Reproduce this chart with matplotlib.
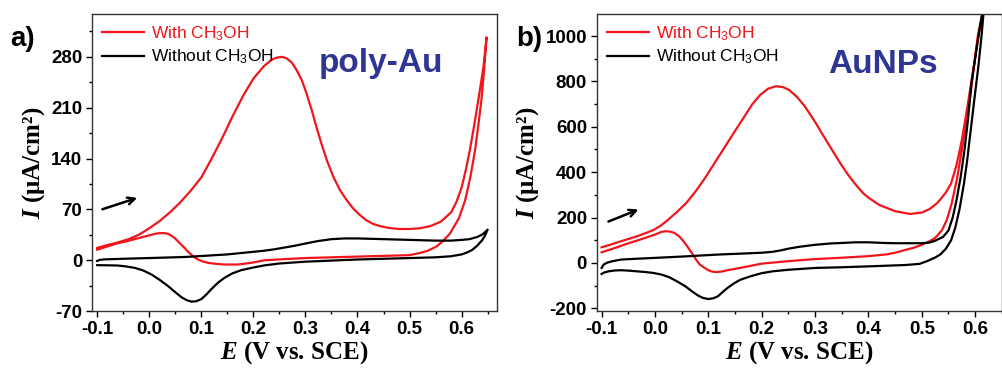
import numpy as np
import matplotlib
matplotlib.use("Agg")
import matplotlib.pyplot as plt

plt.rcParams['font.family'] = ['Liberation Sans', 'DejaVu Sans']
plt.rcParams['axes.unicode_minus'] = False
plt.rcParams['mathtext.fontset'] = 'custom'
plt.rcParams['mathtext.rm'] = 'Liberation Sans'
plt.rcParams['mathtext.it'] = 'Liberation Serif:italic:bold'

# ---- panel a: poly-Au ----
poly_with_fwd_E = [-0.10, -0.08, -0.06, -0.04, -0.02, 0.00, 0.02, 0.04, 0.06, 0.08, 0.10, 0.12, 0.14,
                   0.16, 0.18, 0.20, 0.22, 0.235, 0.245, 0.255, 0.264, 0.274, 0.283, 0.293, 0.302,
                   0.312, 0.321, 0.331, 0.341, 0.353, 0.366, 0.38, 0.392, 0.405, 0.417, 0.43, 0.443, 0.46,
                   0.48, 0.50, 0.52, 0.54, 0.56, 0.58, 0.59, 0.60, 0.608, 0.616, 0.624, 0.632, 0.642, 0.648]
poly_with_fwd_I = [17, 21, 24.5, 29, 35, 44, 54, 66, 80, 96, 114, 140, 168,
                   198, 226, 250, 267, 276, 279, 280, 278, 272, 262, 248, 230,
                   207, 184, 160, 138, 116, 97, 82, 71, 62, 55, 50, 47, 44.5,
                   43, 43, 44, 47, 53, 66, 80, 100, 124, 152, 185, 220, 266, 307]
poly_with_rev_E = [0.648, 0.643, 0.638, 0.632, 0.626, 0.617, 0.607, 0.595, 0.578, 0.565, 0.552, 0.535, 0.52,
                   0.50, 0.45, 0.40, 0.35, 0.30, 0.26, 0.222, 0.196, 0.17, 0.145, 0.128, 0.113, 0.102, 0.094,
                   0.087, 0.081, 0.074, 0.068, 0.058, 0.049, 0.042, 0.036, 0.028, 0.02, 0.012, 0.004, -0.012,
                   -0.028, -0.044, -0.06, -0.08, -0.10]
poly_with_rev_I = [307, 260, 220, 185, 152, 115, 83, 58, 37, 27, 19, 13, 10,
                   7, 6, 5, 4, 3, 1.5, 0, -3.6, -5.9, -5.9, -5, -3.6, -1.5, 0.9,
                   4, 7.7, 12, 16.8, 24, 30.5, 34, 36.4, 37.3, 37.3, 36.5, 35, 32,
                   29, 26, 23.6, 19, 14.5]
poly_without_fwd_E = [-0.10, -0.095, -0.085, -0.05, 0.00, 0.07, 0.15, 0.22, 0.24, 0.26, 0.28, 0.30, 0.325,
                      0.35, 0.375, 0.40, 0.45, 0.50, 0.55, 0.58, 0.60, 0.615, 0.63, 0.64, 0.65]
poly_without_fwd_I = [-1, 0.5, 1.2, 2, 3, 4.5, 8, 13, 15, 17.5, 20, 23, 26.5,
                      29, 30, 30, 29, 28, 27, 27, 28, 29, 32, 35.5, 42]
poly_without_rev_E = [0.65, 0.645, 0.64, 0.63, 0.62, 0.61, 0.60, 0.58, 0.55, 0.50, 0.40, 0.30, 0.25, 0.222,
                      0.20, 0.177, 0.16, 0.145, 0.132, 0.119, 0.11, 0.10, 0.09, 0.081, 0.072, 0.062, 0.05,
                      0.036, 0.02, 0.004, -0.012, -0.028, -0.045, -0.06, -0.08, -0.10]
poly_without_rev_I = [42, 34, 28, 20, 14, 10.5, 8, 5.5, 4, 3, 1, -2, -4.5, -7,
                      -10, -13.6, -18, -24, -31, -40, -47, -53.6, -56.5, -57, -55, -51, -44,
                      -35.5, -27, -19.5, -14, -10.5, -8.5, -7.3, -7, -6.8]

# ---- panel b: AuNPs ----
np_with_fwd_E = [-0.10, -0.08, -0.063, -0.048, -0.033, -0.018, -0.003, 0.01, 0.023, 0.04, 0.059, 0.077, 0.095,
                 0.113, 0.131, 0.149, 0.167, 0.182, 0.197, 0.212, 0.227, 0.24, 0.251, 0.266, 0.281, 0.30,
                 0.317, 0.333, 0.348, 0.363, 0.378, 0.39, 0.40, 0.42, 0.45, 0.478, 0.50, 0.515, 0.53, 0.545,
                 0.555, 0.565, 0.575, 0.585, 0.595, 0.605, 0.615, 0.62]
np_with_fwd_I = [69, 83, 96, 107, 118, 131, 145, 163, 187, 222, 265, 318, 378,
                 445, 511, 578, 643, 698, 740, 768, 779, 775, 763, 732, 690, 622,
                 555, 494, 437, 385, 340, 308, 288, 256, 228, 216, 222, 238, 266, 310,
                 350, 430, 540, 680, 830, 980, 1110, 1160]
np_with_rev_E = [0.62, 0.612, 0.605, 0.597, 0.59, 0.582, 0.575, 0.566, 0.556, 0.547, 0.538, 0.525, 0.511,
                 0.50, 0.485, 0.47, 0.45, 0.435, 0.40, 0.35, 0.30, 0.25, 0.20, 0.183, 0.166, 0.15, 0.136,
                 0.125, 0.115, 0.107, 0.10, 0.092, 0.084, 0.077, 0.069, 0.06, 0.051, 0.044, 0.036, 0.028,
                 0.021, 0.012, 0.00, -0.015, -0.033, -0.048, -0.063, -0.08, -0.10]
np_with_rev_I = [1160, 1080, 1000, 850, 717, 600, 496, 370, 261, 190, 145, 110, 91,
                 80, 67, 58, 45, 38, 30, 23, 17, 8, -3, -11, -19, -26, -32,
                 -38, -40, -38, -32, -20, -7, 15, 44, 75, 103, 120, 133, 138,
                 140, 137, 125, 113, 99, 88, 76, 62, 47]
np_without_fwd_E = [-0.10, -0.098, -0.096, -0.09, -0.081, -0.07, -0.063, -0.04, -0.003, 0.057, 0.118, 0.17,
                    0.20, 0.22, 0.235, 0.25, 0.27, 0.30, 0.33, 0.35, 0.375, 0.40, 0.43, 0.45, 0.50, 0.515,
                    0.526, 0.54, 0.55, 0.558, 0.565, 0.573, 0.58, 0.587, 0.593, 0.60, 0.607, 0.614, 0.617]
np_without_fwd_I = [-22, -14, -7, 1, 7, 12, 15, 18, 22, 29, 37, 42,
                    45, 49, 55, 63, 71, 80, 86, 88, 91, 91, 88, 87, 87, 90,
                    99, 115, 143, 200, 275, 380, 496, 640, 791, 900, 1012, 1110, 1160]
np_without_rev_E = [0.618, 0.612, 0.606, 0.598, 0.591, 0.585, 0.579, 0.571, 0.563, 0.555, 0.545, 0.535, 0.526,
                    0.51, 0.496, 0.47, 0.435, 0.40, 0.35, 0.30, 0.25, 0.22, 0.20, 0.18, 0.16, 0.148, 0.136,
                    0.127, 0.118, 0.109, 0.10, 0.09, 0.081, 0.07, 0.057, 0.042, 0.027, 0.012, -0.003, -0.018,
                    -0.033, -0.048, -0.063, -0.075, -0.087, -0.095, -0.10]
np_without_rev_I = [1160, 1000, 864, 710, 570, 450, 349, 240, 157, 100, 62, 38, 25,
                    8, -4, -9, -12, -15, -19, -22, -30, -37, -45, -58, -74, -90, -110,
                    -128, -147, -156, -159, -154, -144, -126, -103, -82, -63, -51, -44, -40,
                    -37, -34, -32, -33, -37, -42, -48.5]

labels = ['With CH$_3$OH', 'Without CH$_3$OH']
red = '#f0161c'

fig = plt.figure(figsize=(10.03, 3.69), dpi=100)
ax1 = fig.add_axes([0.0917, 0.157, 0.4038, 0.805])
ax2 = fig.add_axes([0.595, 0.157, 0.4038, 0.805])

panels = [
    (ax1, poly_with_fwd_E + poly_with_rev_E, poly_with_fwd_I + poly_with_rev_I,
     poly_without_fwd_E + poly_without_rev_E, poly_without_fwd_I + poly_without_rev_I,
     (-0.11, 0.668), (-70, 339), [-70, 0, 70, 140, 210, 280], 35, 'poly-Au', 0.714, 0.805,
     ((-0.095, 69), (-0.018, 87))),
    (ax2, np_with_fwd_E + np_with_rev_E, np_with_fwd_I + np_with_rev_I,
     np_without_fwd_E + np_without_rev_E, np_without_fwd_I + np_without_rev_I,
     (-0.109, 0.621), (-212, 1097), [-200, 0, 200, 400, 600, 800, 1000], 100, 'AuNPs', 0.707, 0.801,
     ((-0.092, 178), (-0.026, 240))),
]

for ax, wE, wI, woE, woI, xl, yl, yt, ymin, name, tx, ty, arr in panels:
    ax.plot(wE, wI, color=red, lw=1.6, label=labels[0])
    ax.plot(woE, woI, color='black', lw=1.6, label=labels[1])
    ax.set_xlim(*xl)
    ax.set_ylim(*yl)
    ax.set_xticks([-0.1, 0.0, 0.1, 0.2, 0.3, 0.4, 0.5, 0.6])
    ax.set_xticklabels(['-0.1', '0.0', '0.1', '0.2', '0.3', '0.4', '0.5', '0.6'])
    ax.set_xticks(np.arange(-0.1, 0.66, 0.05), minor=True)
    ax.set_yticks(yt)
    ax.set_yticks(np.arange(yt[0], yl[1], ymin), minor=True)
    ax.tick_params(which='major', direction='out', length=4, width=1, labelsize=13.5, pad=3)
    ax.tick_params(which='minor', direction='out', length=2.5, width=1)
    for lab in ax.get_xticklabels() + ax.get_yticklabels():
        lab.set_fontweight('bold')
    for s in ax.spines.values():
        s.set_linewidth(1.0)
        s.set_color('#333333')
    ax.set_xlabel('$E$ (V vs. SCE)', fontfamily='Liberation Serif', fontweight='bold', fontsize=18, labelpad=1)
    ax.set_ylabel('$I$ (μA/cm²)', fontfamily='Liberation Serif', fontweight='bold', fontsize=18, labelpad=3)
    leg = ax.legend(loc='upper left', bbox_to_anchor=(0.0, 1.0), frameon=False, fontsize=12.5,
                    handlelength=2.4, handletextpad=0.4, labelspacing=0.3, borderaxespad=0.2,
                    labelcolor='linecolor')
    ax.text(tx, ty, name, transform=ax.transAxes, ha='center', va='baseline', fontsize=24,
            fontweight='bold', color='#2e3592')
    ax.annotate('', xy=arr[1], xytext=arr[0],
                arrowprops=dict(arrowstyle='->,head_length=0.5,head_width=0.25', color='black', lw=1.8))

fig.text(0.010, 0.893, 'a)', fontsize=20, fontweight='bold', va='center')
fig.text(0.515, 0.893, 'b)', fontsize=20, fontweight='bold', va='center')

fig.savefig('out.png', dpi=100)
